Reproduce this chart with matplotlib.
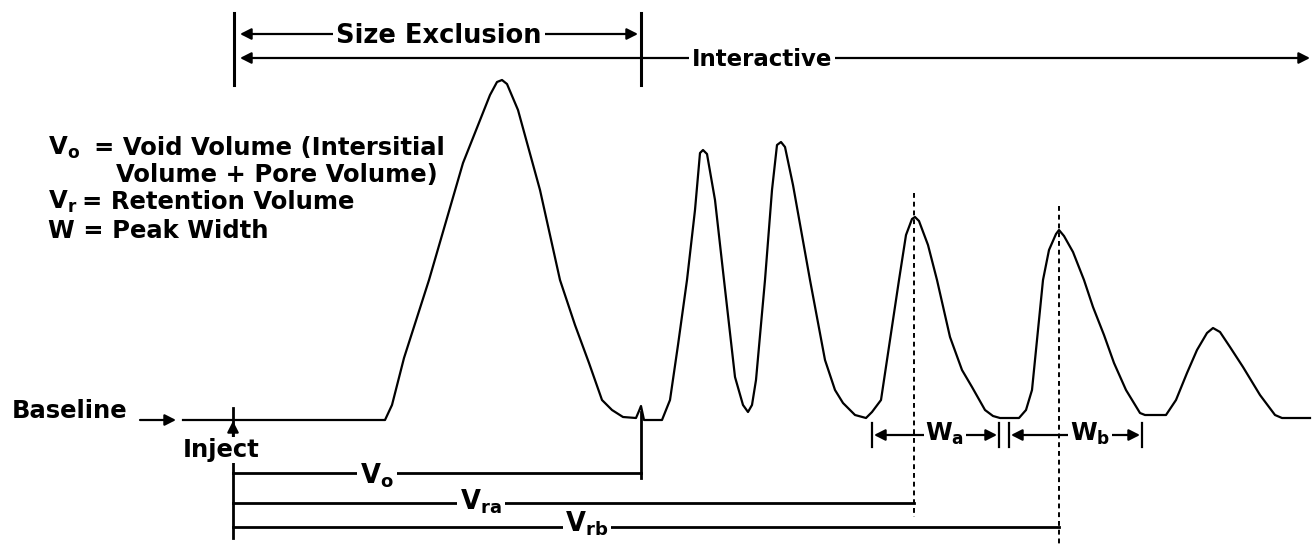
import matplotlib
matplotlib.use("Agg")
import matplotlib.pyplot as plt

plt.rcParams['font.family'] = ['DejaVu Sans']
plt.rcParams['font.weight'] = 'bold'
plt.rcParams['mathtext.fontset'] = 'dejavusans'
plt.rcParams['mathtext.default'] = 'bf'

# Chromatogram trace (x = elution volume position, y = detector signal, image units)
trace_x = [183, 385, 392, 404, 429, 463, 490, 497, 502, 507, 518, 540, 560, 575, 589,
           602, 612, 623, 636, 639, 641, 644, 662, 670, 678, 687, 695, 700, 703, 707,
           715, 724, 735, 743, 748, 752, 756, 765, 772, 777, 781, 785, 793, 810, 825,
           835, 843, 855, 866, 872, 881, 890, 899, 906, 912, 915, 919, 928, 937, 950,
           962, 972, 985, 993, 1000, 1019, 1026, 1032, 1038, 1043, 1049, 1056, 1059,
           1064, 1073, 1084, 1093, 1104, 1114, 1126, 1140, 1145, 1166, 1176, 1187, 1197,
           1207, 1213, 1220, 1230, 1243, 1260, 1275, 1282, 1310]
trace_y = [420, 420, 405, 358, 280, 163, 95, 82, 80, 84, 110, 190, 280, 325, 363,
           400, 410, 417, 418, 411, 406, 420, 420, 400, 345, 280, 210, 153, 150, 154,
           200, 280, 377, 405, 412, 405, 380, 280, 190, 145, 142, 147, 185, 280, 360,
           390, 403, 415, 418, 412, 400, 340, 280, 235, 219, 217, 221, 245, 280, 337,
           370, 387, 410, 416, 418, 418, 410, 390, 330, 280, 250, 234, 230,
           236, 252, 280, 307, 335, 363, 390, 413, 415, 415, 400, 373, 350,
           333, 328, 332, 347, 367, 395, 415, 418, 418]

inject_x = 233
void_x = 641
peak_a_x = 914
peak_b_x = 1059
width_a = (872, 999)
width_b = (1009, 1142)

legend_lines = ["= Void Volume (Intersitial", "Volume + Pore Volume)",
                "= Retention Volume", "W = Peak Width"]

fig = plt.figure(figsize=(13.16, 5.53), dpi=100)
ax = fig.add_axes([0, 0, 1, 1])
ax.set_xlim(0, 1316)
ax.set_ylim(553, 0)
ax.axis('off')

LW = 1.6
FS = 17.5
WHITE = dict(facecolor='white', edgecolor='none', pad=2)


def arrow(x0, y0, x1, y1):
    ax.annotate('', xy=(x1, y1), xytext=(x0, y0),
                arrowprops=dict(arrowstyle='-|>,head_length=0.55,head_width=0.28',
                                lw=LW, color='k', shrinkA=0, shrinkB=0,
                                mutation_scale=12), zorder=2)


# trace
ax.plot(trace_x, trace_y, color='k', lw=LW, solid_joinstyle='round', zorder=2)

# top region brackets
ax.plot([inject_x + 1, inject_x + 1], [13, 85], color='k', lw=2.2)
ax.plot([void_x, void_x], [13, 85], color='k', lw=2.2)
arrow(440, 34, 240, 34)
arrow(440, 34, 638, 34)
ax.text(439, 43, "Size Exclusion", fontsize=18.5, ha='center', va='baseline',
        bbox=WHITE, zorder=3)
arrow(762, 58, 240, 58)
arrow(762, 58, 1310, 58)
ax.text(762, 66, "Interactive", fontsize=16.5, ha='center', va='baseline',
        bbox=WHITE, zorder=3)

# legend text
ax.text(48, 155, r"$V_o$", fontsize=FS, ha='left', va='baseline')
ax.text(94, 155, legend_lines[0], fontsize=FS, ha='left', va='baseline')
ax.text(116, 182, legend_lines[1], fontsize=FS, ha='left', va='baseline')
ax.text(48, 209, r"$V_r$", fontsize=FS, ha='left', va='baseline')
ax.text(82, 209, legend_lines[2], fontsize=FS, ha='left', va='baseline')
ax.text(48, 238, legend_lines[3], fontsize=FS, ha='left', va='baseline')

# baseline label
ax.text(12, 418, "Baseline", fontsize=FS, ha='left', va='baseline')
arrow(140, 420, 176, 420)

# inject marker
ax.plot([inject_x, inject_x], [408, 538], color='k', lw=LW + 0.4)
arrow(inject_x, 440, inject_x, 421)
ax.text(221, 457, "Inject", fontsize=FS, ha='center', va='baseline',
        bbox=dict(facecolor='white', edgecolor='none', pad=1), zorder=3)

# volume lines
ax.plot([inject_x, void_x], [473, 473], color='k', lw=LW + 0.4)
ax.plot([void_x, void_x], [412, 478], color='k', lw=LW + 0.4)
ax.text(377, 483, r"$V_o$", fontsize=FS + 1, ha='center', va='baseline',
        bbox=WHITE, zorder=3)
ax.plot([inject_x, peak_a_x], [503, 503], color='k', lw=LW + 0.4)
ax.text(481, 510, r"$V_{ra}$", fontsize=FS + 1, ha='center', va='baseline',
        bbox=WHITE, zorder=3)
ax.plot([inject_x, peak_b_x], [527, 527], color='k', lw=LW + 0.4)
ax.text(587, 532, r"$V_{rb}$", fontsize=FS + 1, ha='center', va='baseline',
        bbox=WHITE, zorder=3)

# dashed peak markers
ax.plot([peak_a_x, peak_a_x], [193, 517], color='k', lw=1.4, ls=(0, (2.5, 2)))
ax.plot([peak_b_x, peak_b_x], [206, 545], color='k', lw=1.4, ls=(0, (2.5, 2)))

# peak widths
for (x0, x1), cx, lab in [(width_a, 945, r"$W_a$"), (width_b, 1090, r"$W_b$")]:
    ax.plot([x0, x0], [423, 447], color='k', lw=LW)
    ax.plot([x1, x1], [423, 447], color='k', lw=LW)
    arrow(cx, 435, x0 + 2, 435)
    arrow(cx, 435, x1 - 2, 435)
    ax.text(cx, 441, lab, fontsize=FS, ha='center', va='baseline',
            bbox=dict(facecolor='white', edgecolor='none', pad=1), zorder=3)

fig.savefig("out.png", dpi=100, facecolor='white')
